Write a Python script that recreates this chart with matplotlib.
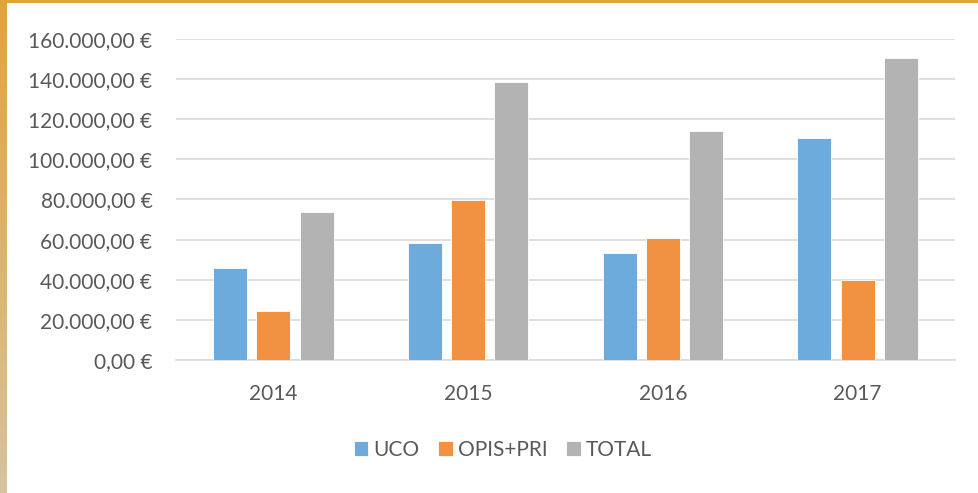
import matplotlib
matplotlib.use("Agg")
import matplotlib.pyplot as plt
import numpy as np
from matplotlib.ticker import FuncFormatter

years = ["2014", "2015", "2016", "2017"]
series_names = ["UCO", "OPIS+PRI", "TOTAL"]
uco = [45700, 58400, 53200, 110600]
opis_pri = [24300, 79800, 61000, 39700]
total = [74000, 138500, 114100, 150600]
colors = ["#6DABDC", "#F19142", "#B3B3B3"]
y_ticks = [0, 20000, 40000, 60000, 80000, 100000, 120000, 140000, 160000]

plt.rcParams['font.family'] = ['Lato', 'DejaVu Sans']

fig = plt.figure(figsize=(9.79, 4.93), dpi=100)
ax = fig.add_axes([176/979, 1-360/493, (955-176)/979, (360-39)/493])

x = np.arange(len(years))
width = 0.175
step = 0.222
for i, (vals, name, c) in enumerate(zip([uco, opis_pri, total], series_names, colors)):
    ax.bar(x + (i-1)*step, vals, width, color=c, label=name,
           edgecolor="white", linewidth=0.6, zorder=3)

ax.set_xlim(-0.5, len(years)-0.5)
ax.set_ylim(0, 160000)
ax.set_yticks(y_ticks)
def fmt(v, pos):
    s = f"{v:,.2f}".replace(",", "X").replace(".", ",").replace("X", ".")
    return s + " €"
ax.yaxis.set_major_formatter(FuncFormatter(fmt))
ax.set_xticks(x)
ax.set_xticklabels(years)
ax.grid(axis="y", color="#D9D9D9", linewidth=1.2, zorder=0)
for s in ["top", "right", "left"]:
    ax.spines[s].set_visible(False)
ax.spines["bottom"].set_color("#D9D9D9")
ax.spines["bottom"].set_linewidth(1.2)
ax.tick_params(axis="both", length=0, labelsize=15, colors="#595959")
ax.tick_params(axis="y", pad=17)
ax.tick_params(axis="x", pad=17)

leg = fig.legend(loc="center", bbox_to_anchor=(503/979, 1-450/493), ncol=3,
                 frameon=False, fontsize=15, handlelength=0.7, handleheight=0.7,
                 handletextpad=0.25, columnspacing=0.9)
for t in leg.get_texts():
    t.set_color("#595959")

# border: top orange strip and left gradient strip
bax = fig.add_axes([0, 0, 7/979, 1])
grad = np.linspace(0, 1, 256).reshape(-1, 1)
c_top = np.array([0xE2, 0xA4, 0x3A]) / 255
c_bot = np.array([0xD6, 0xC3, 0x9E]) / 255
img = c_top[None, None, :] * (1-grad[..., None]) + c_bot[None, None, :] * grad[..., None]
bax.imshow(img, aspect="auto", extent=[0, 1, 0, 1], origin="upper")
bax.axis("off")
tax = fig.add_axes([0, 1-3/493, 1, 3/493])
tax.set_facecolor("#E2A43A")
tax.set_xticks([]); tax.set_yticks([])
for s in tax.spines.values():
    s.set_visible(False)

fig.savefig("out.png", dpi=100)
